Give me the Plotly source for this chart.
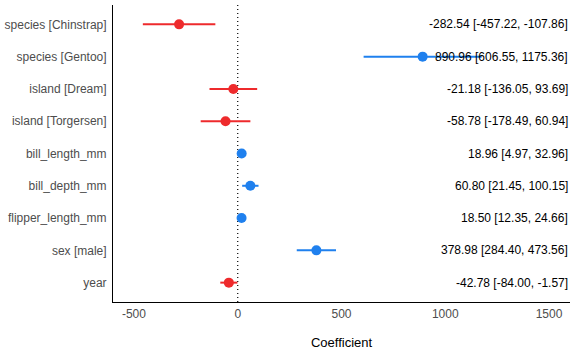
import plotly.graph_objects as go

terms = ["species [Chinstrap]", "species [Gentoo]", "island [Dream]", "island [Torgersen]",
         "bill_length_mm", "bill_depth_mm", "flipper_length_mm", "sex [male]", "year"]
estimates = [-282.54, 890.96, -21.18, -58.78, 18.96, 60.80, 18.50, 378.98, -42.78]
conf_low = [-457.22, 606.55, -136.05, -178.49, 4.97, 21.45, 12.35, 284.40, -84.00]
conf_high = [-107.86, 1175.36, 93.69, 60.94, 32.96, 100.15, 24.66, 473.56, -1.57]

RED = "#ee2a2c"
BLUE = "#1f80ee"

fig = go.Figure()
n = len(terms)
ypos = {t: n - i for i, t in enumerate(terms)}

for t, est, lo, hi in zip(terms, estimates, conf_low, conf_high):
    col = RED if est < 0 else BLUE
    fig.add_trace(go.Scatter(x=[lo, hi], y=[ypos[t], ypos[t]], mode="lines",
                             line=dict(color=col, width=2), showlegend=False, hoverinfo="skip"))
    fig.add_trace(go.Scatter(x=[est], y=[ypos[t]], mode="markers",
                             marker=dict(color=col, size=10), showlegend=False))

for t, est, lo, hi in zip(terms, estimates, conf_low, conf_high):
    fig.add_annotation(x=1, xref="paper", y=ypos[t], yref="y", xanchor="right",
                       text=f"{est:.2f} [{lo:.2f}, {hi:.2f}]", showarrow=False,
                       font=dict(family="Liberation Sans, Arial, sans-serif", size=12, color="black"))

fig.add_shape(type="line", x0=0, x1=0, y0=0, y1=1, xref="x", yref="paper",
              line=dict(color="black", width=1.2, dash="1px,3px"), layer="below")

fig.update_layout(
    width=576, height=355,
    margin=dict(l=111, r=6, t=5, b=53),
    plot_bgcolor="white", paper_bgcolor="white",
    font=dict(family="Liberation Sans, Arial, sans-serif", size=12, color="#4d4d4d"),
    xaxis=dict(range=[-601, 1601], tickvals=[-500, 0, 500, 1000, 1500],
               ticktext=["-500", "0", "500", "1000", "1500"],
               showgrid=False, zeroline=False, showline=True, linecolor="black", linewidth=1,
               ticks="", ticklabelstandoff=1,
               title=dict(text="Coefficient", font=dict(size=13, color="black"), standoff=17)),
    yaxis=dict(range=[0.4, n + 0.6], tickvals=[ypos[t] for t in terms], ticktext=terms,
               showgrid=False, zeroline=False, showline=True, linecolor="black", linewidth=1,
               ticks="", ticklabelstandoff=3),
)

fig.write_html("out.html", config={"displayModeBar": False},
               post_script="document.body.style.margin='0';document.body.style.overflow='hidden';")
